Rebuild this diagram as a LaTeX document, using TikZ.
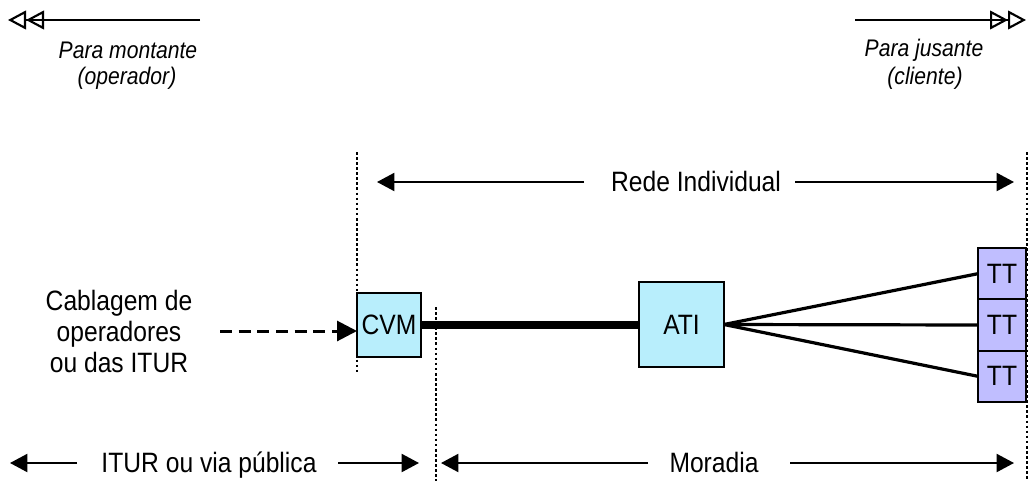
\documentclass[tikz,border=0pt]{standalone}
\usepackage{fontspec}
\setmainfont{Liberation Sans}[FakeStretch=0.88]
\usetikzlibrary{arrows.meta}

\definecolor{boxcyan}{RGB}{184,238,252}
\definecolor{boxlav}{RGB}{192,190,255}

\begin{document}
\begin{tikzpicture}[x=0.75pt,y=-0.75pt,
  lbl/.style={font=\fontsize{21}{23.25}\selectfont, inner sep=0pt},
  note/.style={font=\fontsize{18}{20}\selectfont\itshape, inner sep=0pt},
  unit/.style={draw, line width=1.5pt, outer sep=0pt, inner sep=0pt,
    font=\fontsize{21}{22}\selectfont},
  span/.style={line width=1.5pt, -{Triangle[length=13pt,width=13.5pt]}},
  bound/.style={line width=1.8pt, dash pattern=on 2pt off 1.8pt},
  dirarrow/.style={line width=1.6pt,
    -{Triangle[open,length=13.5pt,width=14pt,sep=0pt]Triangle[open,length=13.5pt,width=14pt]}},
  link/.style={line width=2.4pt},
]
\useasboundingbox (0,0) rectangle (1030,481);

% direction indicators
\coordinate (upS) at (200,20);
\coordinate (upE) at (8,20);
\draw[dirarrow] (upS) -- (upE);
\node[note] (up1) at (128,50) {Para montante};
\node[note] (up2) at (127,78) {(operador)};

\coordinate (dnS) at (855,20);
\coordinate (dnE) at (1026,20);
\draw[dirarrow] (dnS) -- (dnE);
\node[note] (dn1) at (924,50) {Para jusante};
\node[note] (dn2) at (925,78) {(cliente)};

% boundaries
\coordinate (b1t) at (357,152); \coordinate (b1b) at (357,372);
\coordinate (b2t) at (436,307); \coordinate (b2b) at (436,481);
\coordinate (b3t) at (1027,152); \coordinate (b3b) at (1027,481);
\draw[bound] (b1t) -- (b1b);
\draw[bound] (b2t) -- (b2b);
\draw[bound] (b3t) -- (b3b);

% equipment
\node[unit, fill=boxcyan, minimum width=48pt, minimum height=48pt] (cvm) at (389,325) {CVM};
\node[unit, fill=boxcyan, minimum width=63.75pt, minimum height=63.75pt] (ati) at (681.5,324.5) {ATI};
\node[unit, fill=boxlav, minimum width=36pt, minimum height=38.5pt] (tt1) at (1002,273.67) {TT};
\node[unit, fill=boxlav, minimum width=36pt, minimum height=38.5pt] (tt2) at (1002,325) {TT};
\node[unit, fill=boxlav, minimum width=36pt, minimum height=38.5pt] (tt3) at (1002,376.33) {TT};

% cabling
\draw[line width=6pt] (cvm.east) -- (cvm.east -| ati.west);
\draw[link] (ati.east) -- (tt1.west);
\draw[link] (ati.east) -- (tt2.west);
\draw[link] (ati.east) -- (tt3.west);

% incoming cabling
\node[lbl, align=center] (cab) at (119,331) {Cablagem de\\operadores\\ou das ITUR};
\coordinate (feed) at (220,331);
\draw[line width=2.25pt, dash pattern=on 9pt off 5pt, -{Triangle[length=15pt,width=15pt]}]
  (feed) -- (feed -| cvm.west);

% extents
\node[lbl, anchor=base] (rede) at (696,191) {Rede Individual};
\coordinate (r0) at (377,182); \coordinate (r1) at (584,182);
\coordinate (r2) at (795,182); \coordinate (r3) at (1014,182);
\draw[span] (r1) -- (r0);
\draw[span] (r2) -- (r3);

\node[lbl, anchor=base] (itur) at (209,472) {ITUR ou via pública};
\coordinate (i0) at (10,463); \coordinate (i1) at (77,463);
\coordinate (i2) at (338,463); \coordinate (i3) at (419,463);
\draw[span] (i1) -- (i0);
\draw[span] (i2) -- (i3);

\node[lbl, anchor=base] (mor) at (714,472) {Moradia};
\coordinate (m0) at (441,463); \coordinate (m1) at (648,463);
\coordinate (m2) at (790,463); \coordinate (m3) at (1014,463);
\draw[span] (m1) -- (m0);
\draw[span] (m2) -- (m3);
\end{tikzpicture}
\end{document}
